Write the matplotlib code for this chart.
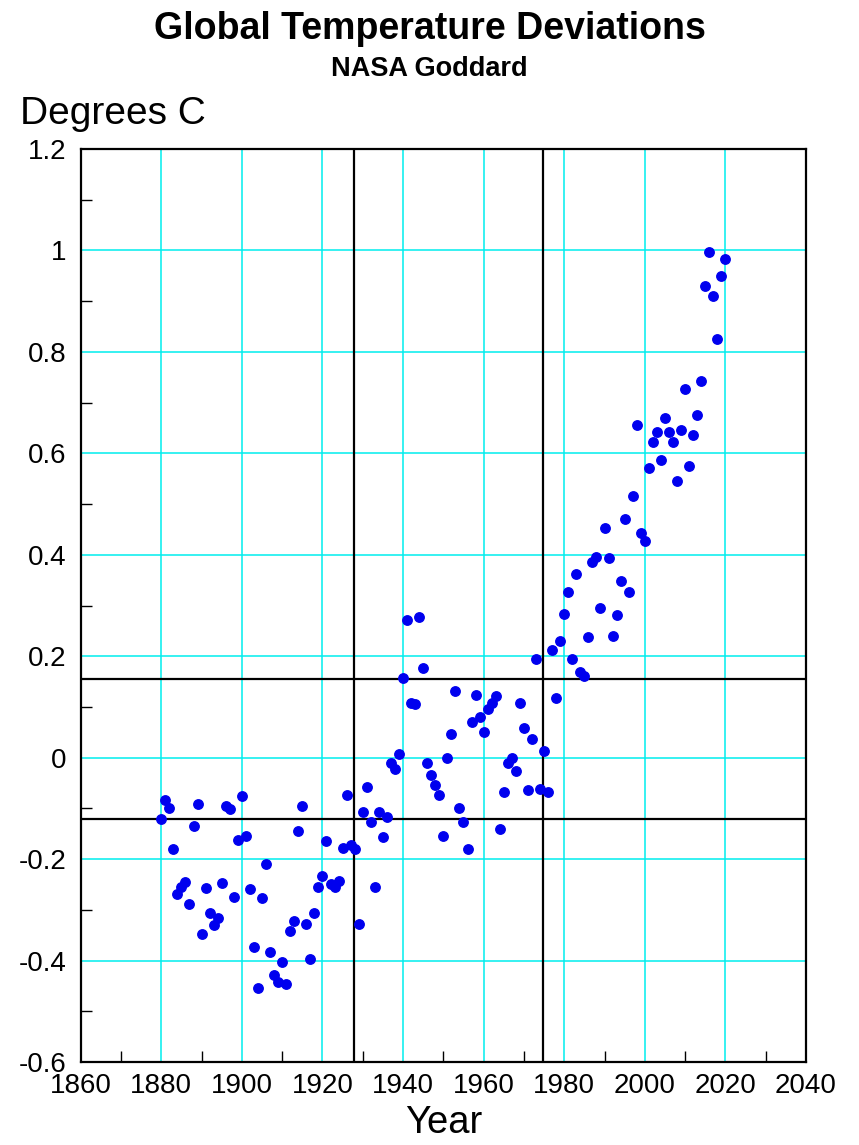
import numpy as np
import matplotlib.pyplot as plt
from matplotlib.ticker import MultipleLocator

plt.rcParams['font.family'] = ['Liberation Sans', 'DejaVu Sans']

# Annual global temperature deviations (deg C), 1880-2020
years = np.arange(1880, 2021)
anomaly = [
    -0.120, -0.083, -0.099, -0.181, -0.269, -0.254, -0.246, -0.288, -0.134, -0.091,  # 1880s
    -0.347, -0.256, -0.306, -0.329, -0.316, -0.248, -0.095, -0.101, -0.275, -0.162,  # 1890s
    -0.075, -0.154, -0.259, -0.373, -0.455, -0.277, -0.210, -0.383, -0.428, -0.442,  # 1900s
    -0.403, -0.447, -0.342, -0.323, -0.145, -0.096, -0.328, -0.397, -0.307, -0.255,  # 1910s
    -0.234, -0.164, -0.250, -0.255, -0.244, -0.178, -0.074, -0.172, -0.181, -0.327,  # 1920s
    -0.108, -0.057, -0.127, -0.255, -0.108, -0.156, -0.117, -0.010, -0.022, 0.008,   # 1930s
    0.158, 0.272, 0.108, 0.106, 0.277, 0.176, -0.011, -0.035, -0.054, -0.074,        # 1940s
    -0.154, 0.000, 0.047, 0.132, -0.099, -0.127, -0.181, 0.070, 0.124, 0.080,        # 1950s
    0.050, 0.095, 0.108, 0.122, -0.140, -0.068, -0.010, 0.000, -0.026, 0.107,        # 1960s
    0.058, -0.064, 0.037, 0.195, -0.062, 0.013, -0.068, 0.212, 0.118, 0.230,         # 1970s
    0.283, 0.326, 0.195, 0.362, 0.169, 0.161, 0.238, 0.385, 0.396, 0.296,            # 1980s
    0.452, 0.393, 0.239, 0.282, 0.348, 0.471, 0.327, 0.516, 0.655, 0.443,            # 1990s
    0.428, 0.571, 0.623, 0.642, 0.586, 0.670, 0.642, 0.622, 0.545, 0.646,            # 2000s
    0.726, 0.575, 0.636, 0.676, 0.743, 0.929, 0.996, 0.910, 0.825, 0.949,            # 2010s
    0.983,                                                                            # 2020
]

# reference lines
vlines = [1927.8, 1974.7]
hlines = [0.155, -0.120]

fig = plt.figure(figsize=(8.59, 11.45), dpi=100)
ax = fig.add_axes([80.7 / 859, 83 / 1145, 725.3 / 859, 913 / 1145])

ax.set_xlim(1860, 2040)
ax.set_ylim(-0.6, 1.2)

ax.xaxis.set_major_locator(MultipleLocator(20))
ax.xaxis.set_minor_locator(MultipleLocator(10))
ax.yaxis.set_major_locator(MultipleLocator(0.2))
ax.yaxis.set_minor_locator(MultipleLocator(0.1))

ax.grid(True, which='major', color='#00eeee', linewidth=1.1, zorder=0)
ax.set_axisbelow(True)

for v in vlines:
    ax.axvline(v, color='black', linewidth=1.6, zorder=1)
for h in hlines:
    ax.axhline(h, color='black', linewidth=1.6, zorder=1)

ax.plot(years, anomaly, 'o', color='#0000ee', markersize=6.8, zorder=3)

for s in ax.spines.values():
    s.set_linewidth(1.6)

ax.tick_params(which='major', length=0, labelsize=20, pad=8)
ax.tick_params(axis='y', which='major', pad=10)
ax.tick_params(which='minor', direction='in', length=8, width=1.0,
               top=False, right=False)

def fmt(v):
    s = f'{v:.1f}'
    if s.endswith('.0'):
        s = s[:-2]
    if s == '-0':
        s = '0'
    return s

yt = np.arange(-0.6, 1.21, 0.2)
ax.set_yticks(yt)
ax.set_yticklabels([fmt(v) for v in yt])

ax.set_xlabel('Year', fontsize=27.5, labelpad=4)

fig.text(0.5, 1 - 29 / 1145, 'Global Temperature Deviations', ha='center', va='center',
         fontsize=27, fontweight='bold')
fig.text(0.5, 1 - 69 / 1145, 'NASA Goddard', ha='center', va='center',
         fontsize=19.5, fontweight='bold')
fig.text(20 / 859, 1 - 114 / 1145, 'Degrees C', ha='left', va='center', fontsize=28)

fig.savefig('out.png', dpi=100)
